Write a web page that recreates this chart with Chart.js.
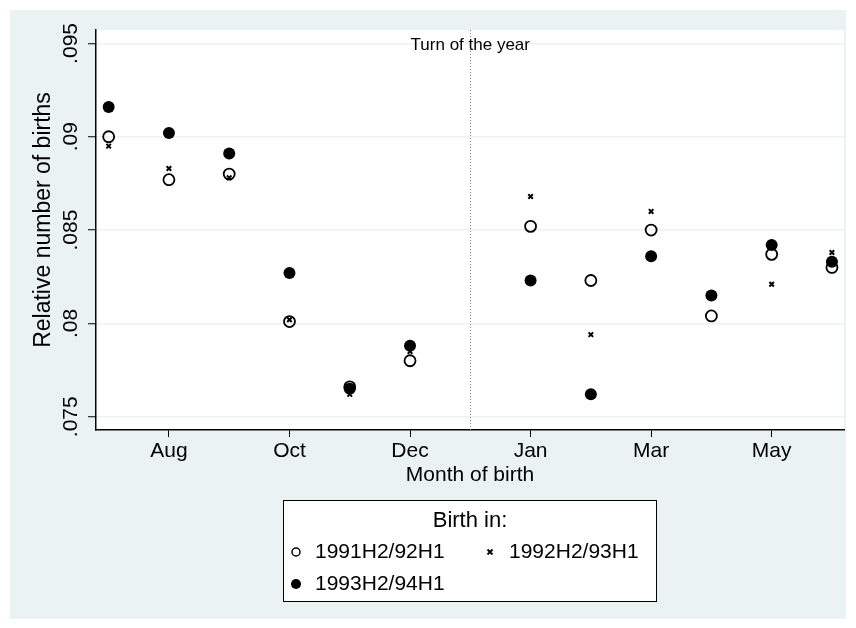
<!DOCTYPE html>
<html>
<head>
<meta charset="utf-8">
<script src="https://cdn.jsdelivr.net/npm/chart.js@4.4.1/dist/chart.umd.min.js"></script>
<style>
  html, body { margin: 0; padding: 0; background: #fff; }
  canvas { display: block; }
</style>
</head>
<body>
<canvas id="births" width="856" height="628"></canvas>
<script>
// month of birth, July to June; one empty slot marks the turn of the year
var months = ["Jul", "Aug", "Sep", "Oct", "Nov", "Dec", "Jan", "Feb", "Mar", "Apr", "May", "Jun"];
var monthPos = [1, 2, 3, 4, 5, 6, 8, 9, 10, 11, 12, 13];
var tickPos = [2, 4, 6, 8, 10, 12];
var tickNames = ["Aug", "Oct", "Dec", "Jan", "Mar", "May"];
var yTicks = [0.075, 0.080, 0.085, 0.090, 0.095];
var yTickText = [".075", ".08", ".085", ".09", ".095"];
var turnOfYear = 7;

// relative number of births per month, by cohort
var births9192 = [0.0900, 0.0877, 0.0880, 0.0801, 0.0766, 0.0780, 0.0852, 0.0823, 0.0850, 0.0804, 0.0837, 0.0830];
var births9293 = [0.0895, 0.0883, 0.0878, 0.0802, 0.0762, 0.0785, 0.0868, 0.0794, 0.0860, 0.0815, 0.0821, 0.0838];
var births9394 = [0.0916, 0.0902, 0.0891, 0.0827, 0.0765, 0.0788, 0.0823, 0.0762, 0.0836, 0.0815, 0.0842, 0.0833];

var FONT = "'Liberation Sans', Arial, Helvetica, sans-serif";
var BG = "#eaf2f3";

function points(vals) {
    return vals.map(function (v, i) { return { x: monthPos[i], y: v }; });
}

function drawMarker(ctx, style, x, y, r) {
    ctx.save();
    ctx.strokeStyle = "#000";
    ctx.fillStyle = "#000";
    if (style === "open") {
        ctx.lineWidth = 1.5;
        ctx.beginPath();
        ctx.arc(x, y, r, 0, Math.PI * 2);
        ctx.stroke();
    } else if (style === "filled") {
        ctx.beginPath();
        ctx.arc(x, y, r, 0, Math.PI * 2);
        ctx.fill();
    } else {
        ctx.lineWidth = 1.8;
        ctx.beginPath();
        ctx.moveTo(x - r, y - r); ctx.lineTo(x + r, y + r);
        ctx.moveTo(x + r, y - r); ctx.lineTo(x - r, y + r);
        ctx.stroke();
    }
    ctx.restore();
}

var stataFrame = {
    id: "stataFrame",
    beforeDraw: function (chart) {
        var ctx = chart.ctx, a = chart.chartArea;
        ctx.save();
        ctx.fillStyle = "#fff";
        ctx.fillRect(0, 0, chart.width, chart.height);
        ctx.fillStyle = BG;
        ctx.fillRect(10, 10, 836, 609);
        ctx.fillStyle = "#fff";
        ctx.fillRect(a.left, a.top, a.right - a.left, a.bottom - a.top);
        ctx.restore();
    },
    beforeDatasetsDraw: function (chart) {
        var ctx = chart.ctx, a = chart.chartArea;
        var px = chart.scales.x.getPixelForValue(turnOfYear);
        ctx.save();
        ctx.strokeStyle = "#8c8c8c";
        ctx.lineWidth = 1;
        ctx.setLineDash([1, 2]);
        ctx.beginPath();
        ctx.moveTo(Math.round(px) + 0.5, a.top);
        ctx.lineTo(Math.round(px) + 0.5, a.bottom);
        ctx.stroke();
        ctx.restore();

        ctx.save();
        ctx.fillStyle = "#000";
        ctx.font = "17px " + FONT;
        ctx.textAlign = "center";
        ctx.textBaseline = "middle";
        ctx.fillText("Turn of the year", px, 45);
        ctx.restore();
    },
    afterDraw: function (chart) {
        var ctx = chart.ctx, ys = chart.scales.y;

        // y tick labels and axis title, turned to read upwards
        ctx.save();
        ctx.fillStyle = "#000";
        ctx.textAlign = "center";
        ctx.textBaseline = "middle";
        ctx.font = "21px " + FONT;
        yTicks.forEach(function (v, i) {
            var py = ys.getPixelForValue(v);
            ctx.save();
            ctx.translate(71, py);
            ctx.rotate(-Math.PI / 2);
            ctx.fillText(yTickText[i], 0, 0);
            ctx.restore();
        });
        ctx.font = "23px " + FONT;
        ctx.translate(44, 220);
        ctx.rotate(-Math.PI / 2);
        ctx.fillText("Relative number of births", 0, 0);
        ctx.restore();

        // legend box
        var bx = 283, by = 500, bw = 374, bh = 102;
        ctx.save();
        ctx.fillStyle = "#fff";
        ctx.fillRect(bx, by, bw, bh);
        ctx.strokeStyle = "#000";
        ctx.lineWidth = 1;
        ctx.strokeRect(bx + 0.5, by + 0.5, bw - 1, bh - 1);
        ctx.fillStyle = "#000";
        ctx.textBaseline = "middle";
        ctx.textAlign = "center";
        ctx.font = "22px " + FONT;
        ctx.fillText("Birth in:", bx + bw / 2, 521);
        ctx.textAlign = "left";
        ctx.font = "21px " + FONT;
        var items = [
            { style: "open", r: 4, x: 296, y: 552, label: chart.data.datasets[0].label },
            { style: "cross", r: 2.5, x: 490, y: 552, label: chart.data.datasets[1].label },
            { style: "filled", r: 5, x: 296, y: 584, label: chart.data.datasets[2].label }
        ];
        items.forEach(function (it) {
            drawMarker(ctx, it.style, it.x, it.y, it.r);
            ctx.fillText(it.label, it.x + 19, it.y);
        });
        ctx.restore();
    }
};

Chart.defaults.color = "#000";
Chart.defaults.font.family = FONT;
Chart.defaults.font.size = 21;

new Chart("births", {
    type: "scatter",
    data: {
        datasets: [{
            label: "1991H2/92H1",
            data: points(births9192),
            pointStyle: "circle",
            pointRadius: 5.5,
            pointHoverRadius: 5.5,
            borderColor: "#000",
            backgroundColor: "rgba(0,0,0,0)",
            borderWidth: 1.8,
            order: 3
        }, {
            label: "1992H2/93H1",
            data: points(births9293),
            pointStyle: "crossRot",
            pointRadius: 3.2,
            pointHoverRadius: 3.2,
            borderColor: "#000",
            backgroundColor: "#000",
            borderWidth: 2,
            order: 2
        }, {
            label: "1993H2/94H1",
            data: points(births9394),
            pointStyle: "circle",
            pointRadius: 6,
            pointHoverRadius: 6,
            borderColor: "#000",
            backgroundColor: "#000",
            borderWidth: 0,
            order: 1
        }]
    },
    options: {
        responsive: false,
        animation: false,
        events: [],
        layout: {
            padding: { top: 30, right: 12, left: 0, bottom: 0 }
        },
        scales: {
            x: {
                type: "linear",
                min: 0.79,
                max: 13.2,
                afterBuildTicks: function (scale) {
                    scale.ticks = tickPos.map(function (v) { return { value: v }; });
                },
                afterFit: function (scale) { scale.height = 198; },
                ticks: {
                    padding: 2,
                    autoSkip: false,
                    maxRotation: 0,
                    callback: function (v) {
                        var i = tickPos.indexOf(v);
                        return i >= 0 ? tickNames[i] : "";
                    }
                },
                grid: {
                    drawOnChartArea: false,
                    drawTicks: true,
                    tickLength: 7,
                    tickColor: "#000"
                },
                border: { display: true, color: "#000", width: 1.5 },
                title: {
                    display: true,
                    text: "Month of birth",
                    padding: { top: 0, bottom: 140 }
                }
            },
            y: {
                type: "linear",
                min: 0.07429,
                max: 0.09572,
                afterBuildTicks: function (scale) {
                    scale.ticks = yTicks.map(function (v) { return { value: v }; });
                },
                afterFit: function (scale) { scale.width = 96; },
                ticks: { display: false },
                grid: {
                    color: BG,
                    lineWidth: 1.5,
                    drawTicks: true,
                    tickLength: 8,
                    tickColor: "#000",
                    tickWidth: 1
                },
                border: { display: true, color: "#000", width: 1.5 }
            }
        },
        plugins: {
            legend: { display: false },
            tooltip: { enabled: false }
        }
    },
    plugins: [stataFrame]
});
</script>
</body>
</html>
